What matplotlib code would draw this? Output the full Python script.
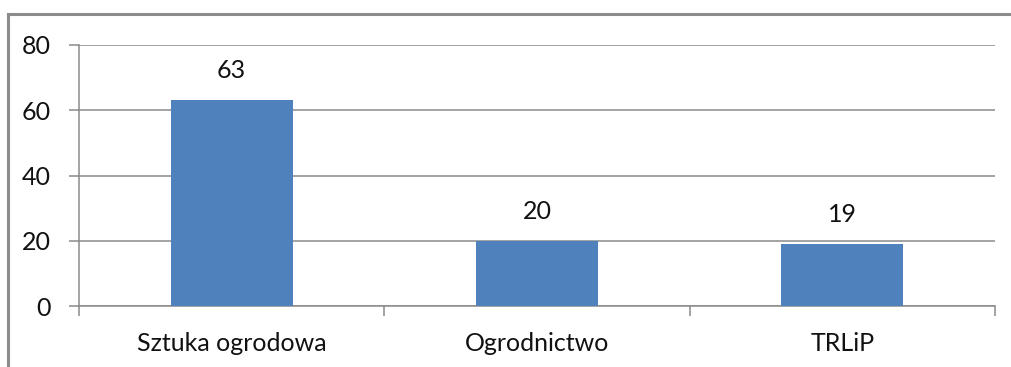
import matplotlib
matplotlib.use("Agg")
import matplotlib.pyplot as plt
from matplotlib.lines import Line2D
import numpy as np

plt.rcParams['font.family'] = ['Lato', 'DejaVu Sans']

categories = ['Sztuka ogrodowa', 'Ogrodnictwo', 'TRLiP']
values = [63, 20, 19]
yticks = [0, 20, 40, 60, 80]

W, H = 1011, 367
fig = plt.figure(figsize=(W / 100, H / 100), dpi=100)
fig.patch.set_facecolor('white')

# plot area in pixel units
left, right, top, bottom = 79, 995, 45, 306
ax = fig.add_axes([left / W, 1 - bottom / H, (right - left) / W, (bottom - top) / H])

grid_col = '#8A8A8A'
txt_col = '#111111'
fs = 18
index = np.arange(len(categories))
ax.bar(index, values, 0.4, color='#4F81BD', zorder=3)

for i, v in enumerate(values):
    ax.annotate(str(v), (index[i], v), xytext=(0, 18), textcoords='offset pixels',
                ha='center', va='bottom', fontsize=fs, color=txt_col)

ax.set_xlim(-0.5, len(categories) - 0.5)
ax.set_ylim(0, 80)
ax.set_yticks(yticks)
ax.set_yticklabels([str(t) for t in yticks], fontsize=fs, color=txt_col)
ax.yaxis.grid(True, color=grid_col, linewidth=1.1, zorder=0)

# category separators as major ticks, names as minor ticks
ax.set_xticks(np.arange(-0.5, len(categories), 1.0))
ax.set_xticklabels([])
ax.set_xticks(index, minor=True)
ax.set_xticklabels(categories, minor=True, fontsize=fs, color=txt_col)
ax.tick_params(axis='x', which='major', direction='out', length=7, color=grid_col, width=1.1)
ax.tick_params(axis='x', which='minor', length=0, pad=19)
ax.tick_params(axis='y', direction='out', length=7, color=grid_col, width=1.1, pad=13)

for s in ['top', 'right']:
    ax.spines[s].set_visible(False)
for s in ['left', 'bottom']:
    ax.spines[s].set_color(grid_col)
    ax.spines[s].set_linewidth(1.1)

# outer chart frame (top and left edges)
bx, by = 8 / W, 1 - 14 / H
fig.add_artist(Line2D([bx, 1.0], [by, by], color='#8C8C8C', linewidth=2.2))
fig.add_artist(Line2D([bx, bx], [by, 0.0], color='#8C8C8C', linewidth=2.2))

fig.savefig('out.png', dpi=100)
